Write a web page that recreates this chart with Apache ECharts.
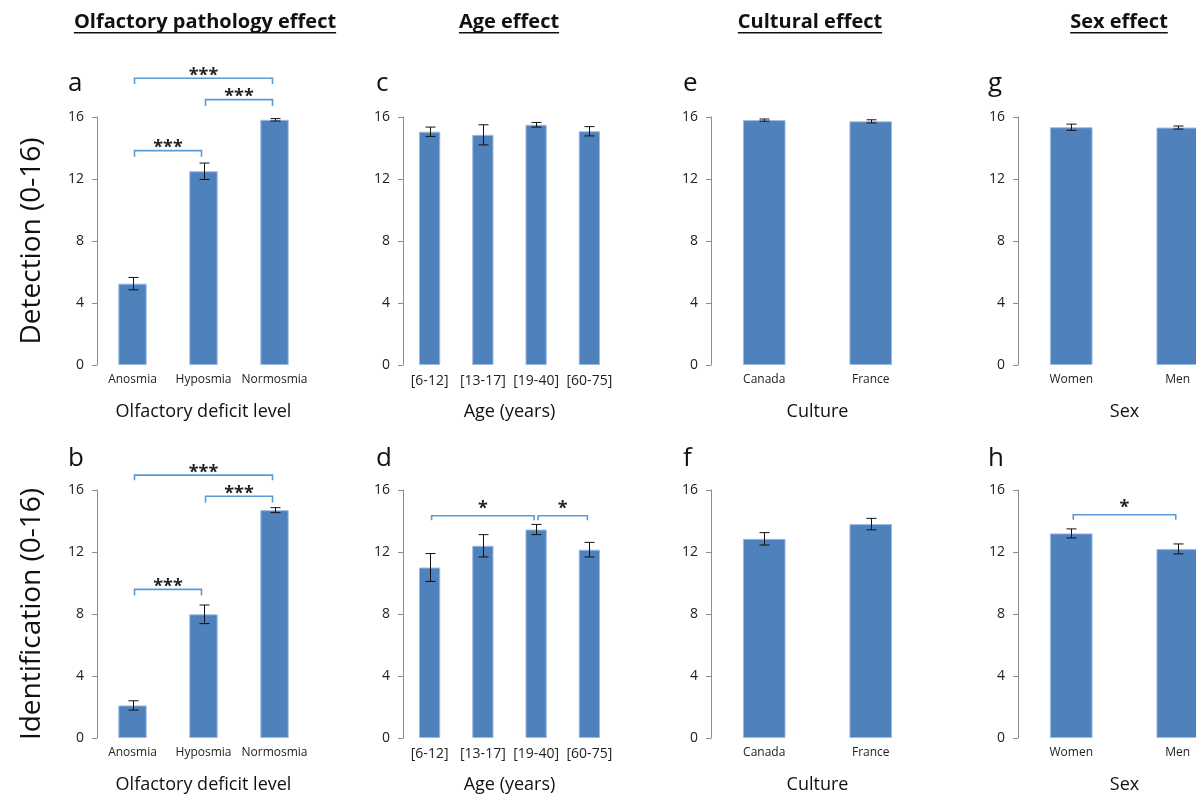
<!DOCTYPE html>
<html>
<head>
<meta charset="utf-8">
<script src="https://cdn.jsdelivr.net/npm/echarts@6/dist/echarts.min.js"></script>
<style>
  html, body { margin: 0; padding: 0; background: #fff; }
  #chart { width: 1196px; height: 796px; }
</style>
</head>
<body>
<div id="chart"></div>
<script>
// categories
var olfCats = ['Anosmia', 'Hyposmia', 'Normosmia'];
var ageCats = ['[6-12]', '[13-17]', '[19-40]', '[60-75]'];
var cultCats = ['Canada', 'France'];
var sexCats = ['Women', 'Men'];

// detection scores (mean, error)
var olfDetect = [5.25, 12.5, 15.82];
var olfDetectErr = [0.4, 0.53, 0.08];
var ageDetect = [15.05, 14.85, 15.5, 15.08];
var ageDetectErr = [0.3, 0.65, 0.15, 0.3];
var cultDetect = [15.8, 15.72];
var cultDetectErr = [0.07, 0.1];
var sexDetect = [15.34, 15.32];
var sexDetectErr = [0.2, 0.1];

// identification scores (mean, error)
var olfIdent = [2.1, 7.98, 14.7];
var olfIdentErr = [0.3, 0.6, 0.16];
var ageIdent = [11.0, 12.4, 13.45, 12.15];
var ageIdentErr = [0.9, 0.72, 0.33, 0.47];
var cultIdent = [12.85, 13.8];
var cultIdentErr = [0.4, 0.37];
var sexIdent = [13.2, 12.2];
var sexIdentErr = [0.29, 0.32];

// significance brackets: [from, to, top, leg end, stars]
var olfDetectSig = [[0, 2, 18.5, 18.13, '***'], [1, 2, 17.12, 16.71, '***'], [0, 1, 13.83, 13.44, '***']];
var olfIdentSig = [[0, 2, 16.96, 16.63, '***'], [1, 2, 15.6, 15.19, '***'], [0, 1, 9.59, 9.2, '***']];
var ageIdentSig = [[0, 2, 14.34, 14.05, '*'], [2, 3, 14.34, 14.05, '*']];
var sexIdentSig = [[0, 1, 14.4, 14.08, '*']];

// y axis ticks
var yMin = 0, yMax = 16, yStep = 4;

var headers = ['Olfactory pathology effect', 'Age effect', 'Cultural effect', 'Sex effect'];
var xNames = ['Olfactory deficit level', 'Age (years)', 'Culture', 'Sex'];
var rowNames = ['Detection (0-16)', 'Identification (0-16)'];

var FONT = 'Open Sans';
var BAR = '#4f81bd';
var SIG = '#5b9bd5';

var colLeft = [97, 403, 711, 1018];
var colCenter = [205, 509, 810, 1119];
var rowTop = [117, 490];
var letterLeft = [68, 376, 683, 988];

var panels = [
  {letter: 'a', col: 0, row: 0, cats: olfCats, vals: olfDetect, errs: olfDetectErr, sig: olfDetectSig, lab: 12},
  {letter: 'c', col: 1, row: 0, cats: ageCats, vals: ageDetect, errs: ageDetectErr, sig: [], lab: 14},
  {letter: 'e', col: 2, row: 0, cats: cultCats, vals: cultDetect, errs: cultDetectErr, sig: [], lab: 12},
  {letter: 'g', col: 3, row: 0, cats: sexCats, vals: sexDetect, errs: sexDetectErr, sig: [], lab: 12},
  {letter: 'b', col: 0, row: 1, cats: olfCats, vals: olfIdent, errs: olfIdentErr, sig: olfIdentSig, lab: 12},
  {letter: 'd', col: 1, row: 1, cats: ageCats, vals: ageIdent, errs: ageIdentErr, sig: ageIdentSig, lab: 14},
  {letter: 'f', col: 2, row: 1, cats: cultCats, vals: cultIdent, errs: cultIdentErr, sig: [], lab: 12},
  {letter: 'h', col: 3, row: 1, cats: sexCats, vals: sexIdent, errs: sexIdentErr, sig: sexIdentSig, lab: 12}
];

function errRender(params, api) {
  var x = api.value(0), v = api.value(1), e = api.value(2);
  var hi = api.coord([x, v + e]), lo = api.coord([x, v - e]);
  var cx = Math.round(hi[0]) + 0.5, w = 5;
  var st = {stroke: '#111', lineWidth: 1};
  return {type: 'group', children: [
    {type: 'line', shape: {x1: cx, y1: hi[1], x2: cx, y2: lo[1]}, style: st},
    {type: 'line', shape: {x1: cx - w, y1: hi[1], x2: cx + w, y2: hi[1]}, style: st},
    {type: 'line', shape: {x1: cx - w, y1: lo[1], x2: cx + w, y2: lo[1]}, style: st}
  ]};
}

function sigRender(sig) {
  return function (params, api) {
    var s = sig[params.dataIndex];
    var a = api.coord([api.value(0), api.value(2)]);
    var b = api.coord([api.value(1), api.value(2)]);
    var leg = api.coord([api.value(0), api.value(3)])[1];
    // leave a small gap where two brackets meet on the same bar
    var x1 = a[0] + 2, x2 = b[0] - 2, y = a[1];
    var lift = s[4].length > 1 ? 2.5 : 7;
    return {type: 'group', children: [
      {type: 'polyline', shape: {points: [[x1, leg], [x1, y], [x2, y], [x2, leg]]},
        style: {stroke: SIG, lineWidth: 1.6, fill: null}},
      {type: 'text', x: (x1 + x2) / 2, y: y - lift,
        style: {text: s[4], fill: '#222', font: 'bold 18px "' + FONT + '"', align: 'center', verticalAlign: 'middle'}}
    ]};
  };
}

var grids = [], xAxes = [], yAxes = [], series = [];
panels.forEach(function (p, i) {
  grids.push({left: colLeft[p.col], top: rowTop[p.row], width: 213, height: 248,
    outerBoundsMode: 'none', containLabel: false});
  xAxes.push({
    type: 'category', gridIndex: i, data: p.cats,
    axisLine: {show: false}, axisTick: {show: false},
    axisLabel: {interval: 0, margin: 9, fontSize: p.lab, fontFamily: FONT, color: '#222'},
    name: xNames[p.col], nameLocation: 'middle', nameGap: 38,
    nameTextStyle: {fontSize: 18, fontFamily: FONT, color: '#111'}
  });
  yAxes.push({
    type: 'value', gridIndex: i, min: yMin, max: yMax, interval: yStep,
    splitLine: {show: false},
    axisLine: {show: true, lineStyle: {color: '#8c8c8c', width: 1}},
    axisTick: {show: true, length: 5, lineStyle: {color: '#8c8c8c'}},
    axisLabel: {margin: 13, fontSize: 14, fontFamily: FONT, color: '#222'},
    name: p.col === 0 ? rowNames[p.row] : '', nameLocation: 'middle', nameGap: 51,
    nameTextStyle: {fontSize: 28, fontFamily: FONT, color: '#111'}
  });
  series.push({
    type: 'bar', xAxisIndex: i, yAxisIndex: i, data: p.vals, barWidth: '40%',
    itemStyle: {color: BAR, borderColor: '#9dbbe0', borderWidth: 1}, silent: true
  });
  series.push({
    type: 'custom', xAxisIndex: i, yAxisIndex: i, renderItem: errRender, z: 5,
    encode: {x: 0, y: 1},
    data: p.vals.map(function (v, k) { return [k, v, p.errs[k]]; })
  });
  if (p.sig.length) {
    series.push({
      type: 'custom', xAxisIndex: i, yAxisIndex: i, renderItem: sigRender(p.sig), z: 6,
      encode: {x: [0, 1], y: [2, 3]}, clip: false,
      data: p.sig.map(function (s) { return [s[0], s[1], s[2], s[3]]; })
    });
  }
});

// header titles with underlines
var ctx = document.createElement('canvas').getContext('2d');
ctx.font = 'bold 20px "' + FONT + '"';
var graphics = [];
headers.forEach(function (h, k) {
  var w = ctx.measureText(h).width;
  graphics.push({type: 'text', x: colCenter[k], y: 22,
    style: {text: h, fill: '#111', font: 'bold 20px "' + FONT + '"', align: 'center', verticalAlign: 'middle'}});
  graphics.push({type: 'rect', shape: {x: colCenter[k] - w / 2, y: 32, width: w, height: 1.6},
    style: {fill: '#111'}});
});
panels.forEach(function (p) {
  graphics.push({type: 'text', x: letterLeft[p.col], y: p.row === 0 ? 84 : 459,
    style: {text: p.letter, fill: '#111', font: '26px "' + FONT + '"', align: 'left', verticalAlign: 'middle'}});
});

var chart = echarts.init(document.getElementById('chart'));
chart.setOption({
  animation: false,
  backgroundColor: '#fff',
  grid: grids,
  xAxis: xAxes,
  yAxis: yAxes,
  series: series,
  graphic: graphics
});
</script>
</body>
</html>
